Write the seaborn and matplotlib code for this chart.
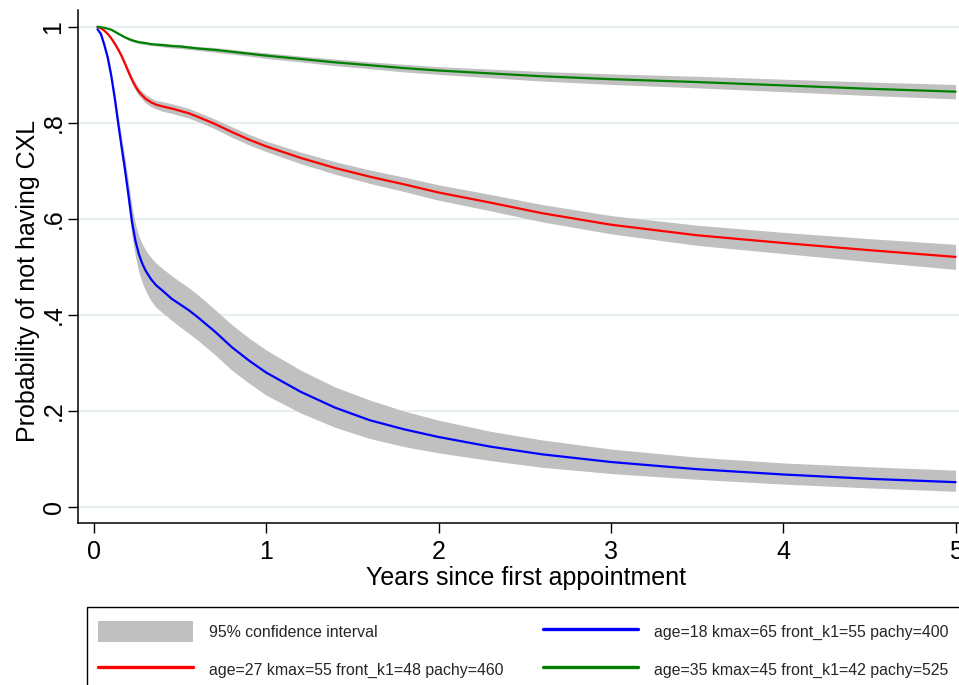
import matplotlib.pyplot as plt
import numpy as np
import pandas as pd
import seaborn as sns
from matplotlib.lines import Line2D
from matplotlib.patches import Patch, Rectangle

# years since first appointment
years = [0.02, 0.04, 0.06, 0.08, 0.10, 0.12, 0.14, 0.16, 0.18, 0.20, 0.22, 0.24,
         0.26, 0.28, 0.30, 0.33, 0.36, 0.40, 0.45, 0.50, 0.55, 0.60, 0.70, 0.80,
         0.90, 1.0, 1.2, 1.4, 1.6, 1.8, 2.0, 2.3, 2.6, 3.0, 3.5, 4.0, 4.5, 5.0]

# age=18 profile
prob_18 = [0.995, 0.985, 0.962, 0.935, 0.898, 0.852, 0.800, 0.750, 0.702, 0.650,
           0.595, 0.555, 0.527, 0.507, 0.492, 0.475, 0.462, 0.450, 0.434, 0.422,
           0.410, 0.396, 0.366, 0.333, 0.305, 0.280, 0.240, 0.207, 0.181, 0.162,
           0.146, 0.126, 0.110, 0.094, 0.079, 0.068, 0.059, 0.052]
hi_18 = [0.997, 0.989, 0.968, 0.943, 0.908, 0.865, 0.816, 0.769, 0.725, 0.677,
         0.626, 0.590, 0.565, 0.548, 0.535, 0.520, 0.508, 0.496, 0.482, 0.469,
         0.457, 0.443, 0.412, 0.380, 0.352, 0.327, 0.285, 0.250, 0.223, 0.200,
         0.181, 0.158, 0.140, 0.121, 0.104, 0.092, 0.084, 0.077]
lo_18 = [0.993, 0.981, 0.955, 0.926, 0.887, 0.838, 0.783, 0.730, 0.678, 0.622,
         0.565, 0.522, 0.490, 0.467, 0.450, 0.430, 0.416, 0.404, 0.389, 0.375,
         0.362, 0.348, 0.318, 0.285, 0.258, 0.233, 0.196, 0.166, 0.143, 0.126,
         0.113, 0.097, 0.083, 0.070, 0.058, 0.048, 0.040, 0.033]

# age=27 profile
prob_27 = [1.000, 0.997, 0.992, 0.985, 0.976, 0.965, 0.953, 0.939, 0.923, 0.906,
           0.890, 0.876, 0.865, 0.857, 0.850, 0.843, 0.838, 0.834, 0.830, 0.825,
           0.820, 0.813, 0.798, 0.781, 0.765, 0.751, 0.727, 0.706, 0.688, 0.672,
           0.655, 0.634, 0.612, 0.588, 0.566, 0.550, 0.535, 0.521]
half_27 = [0.001, 0.001, 0.002, 0.002, 0.003, 0.004, 0.005, 0.005, 0.006, 0.007,
           0.007, 0.008, 0.008, 0.008, 0.009, 0.009, 0.009, 0.010, 0.010, 0.010,
           0.010, 0.010, 0.010, 0.011, 0.011, 0.011, 0.012, 0.013, 0.014, 0.015,
           0.016, 0.017, 0.018, 0.019, 0.021, 0.022, 0.024, 0.026]

# age=35 profile
prob_35 = [1.000, 0.999, 0.998, 0.996, 0.994, 0.990, 0.986, 0.982, 0.978, 0.975,
           0.972, 0.970, 0.968, 0.967, 0.966, 0.964, 0.963, 0.962, 0.960, 0.959,
           0.957, 0.955, 0.952, 0.948, 0.944, 0.940, 0.933, 0.926, 0.920, 0.914,
           0.909, 0.903, 0.897, 0.891, 0.885, 0.878, 0.871, 0.865]
half_35 = [0.000, 0.001, 0.001, 0.001, 0.001, 0.002, 0.002, 0.002, 0.002, 0.003,
           0.003, 0.003, 0.003, 0.003, 0.003, 0.003, 0.003, 0.004, 0.004, 0.004,
           0.004, 0.004, 0.005, 0.005, 0.005, 0.006, 0.006, 0.007, 0.007, 0.008,
           0.008, 0.009, 0.010, 0.011, 0.012, 0.013, 0.014, 0.015]

labels = ["age=18 kmax=65 front_k1=55 pachy=400",
          "age=27 kmax=55 front_k1=48 pachy=460",
          "age=35 kmax=45 front_k1=42 pachy=525"]
colors = ["#0000ff", "#ff0000", "#008000"]
y_ticks = [0, 0.2, 0.4, 0.6, 0.8, 1.0]
y_tick_labels = ["0", ".2", ".4", ".6", ".8", "1"]
x_ticks = [0, 1, 2, 3, 4, 5]

sns.set_theme(style="white")
plt.rcParams["font.family"] = ["Liberation Sans", "DejaVu Sans"]

df = pd.DataFrame({
    "years": years * 3,
    "prob": prob_18 + prob_27 + prob_35,
    "group": [labels[0]] * len(years) + [labels[1]] * len(years) + [labels[2]] * len(years),
})

fig = plt.figure(figsize=(9.59, 6.85), dpi=100)
ax = fig.add_axes([78 / 959, 1 - 523 / 685, 896 / 959, 513 / 685])

yrs = np.array(years)
ci_color = "#c0c0c0"
ax.fill_between(yrs, lo_18, hi_18, color=ci_color, lw=0, zorder=1)
ax.fill_between(yrs, np.array(prob_27) - np.array(half_27),
                np.array(prob_27) + np.array(half_27), color=ci_color, lw=0, zorder=1)
ax.fill_between(yrs, np.array(prob_35) - np.array(half_35),
                np.array(prob_35) + np.array(half_35), color=ci_color, lw=0, zorder=1)

sns.lineplot(data=df, x="years", y="prob", hue="group", hue_order=labels,
             palette=colors, linewidth=1.6, estimator=None, legend=False, ax=ax, zorder=3)

ax.set_xlim(-0.093, 5.107)
ax.set_ylim(-0.033, 1.035)
ax.set_yticks(y_ticks)
ax.set_yticklabels(y_tick_labels)
ax.set_xticks(x_ticks)
ax.grid(axis="y", color="#e6eff1", linewidth=1.4, zorder=0)
ax.grid(axis="x", visible=False)

for side in ["top", "right"]:
    ax.spines[side].set_visible(False)
for side in ["left", "bottom"]:
    ax.spines[side].set_color("black")
    ax.spines[side].set_linewidth(1.1)

ax.tick_params(axis="both", which="major", direction="out", length=7, width=1,
               color="black", labelsize=18, labelcolor="black", left=True, bottom=True)
ax.tick_params(axis="x", pad=5)
ax.tick_params(axis="y", pad=2)
for lab in ax.get_yticklabels():
    lab.set_rotation(90)
    lab.set_va("center")
    lab.set_ha("right")
    lab.set_rotation_mode("default")

ax.set_xlabel("Years since first appointment", fontsize=18, color="black", labelpad=2)
ax.set_ylabel("Probability of not having CXL", fontsize=18, color="black")
ax.yaxis.set_label_coords(-0.042, 0.472)

handles = [
    Patch(facecolor=ci_color, edgecolor="none", label="95% confidence interval"),
    Line2D([], [], color=colors[1], lw=2.4, label=labels[1]),
    Line2D([], [], color=colors[0], lw=2.4, label=labels[0]),
    Line2D([], [], color=colors[2], lw=2.4, label=labels[2]),
]
fig.legend(handles=handles, ncol=2, loc="upper left",
           bbox_to_anchor=(98 / 959, 1 - 621 / 685), frameon=False, fontsize=11.4,
           handlelength=6, handleheight=1.65, handletextpad=1.0, columnspacing=2.5,
           labelspacing=1.1, borderpad=0, borderaxespad=0)
fig.add_artist(Rectangle((87 / 959, -0.1), (965 - 87) / 959, (1 - 607 / 685) + 0.1,
                         transform=fig.transFigure, fill=False, edgecolor="black", lw=1))

fig.savefig("out.png", dpi=100)
